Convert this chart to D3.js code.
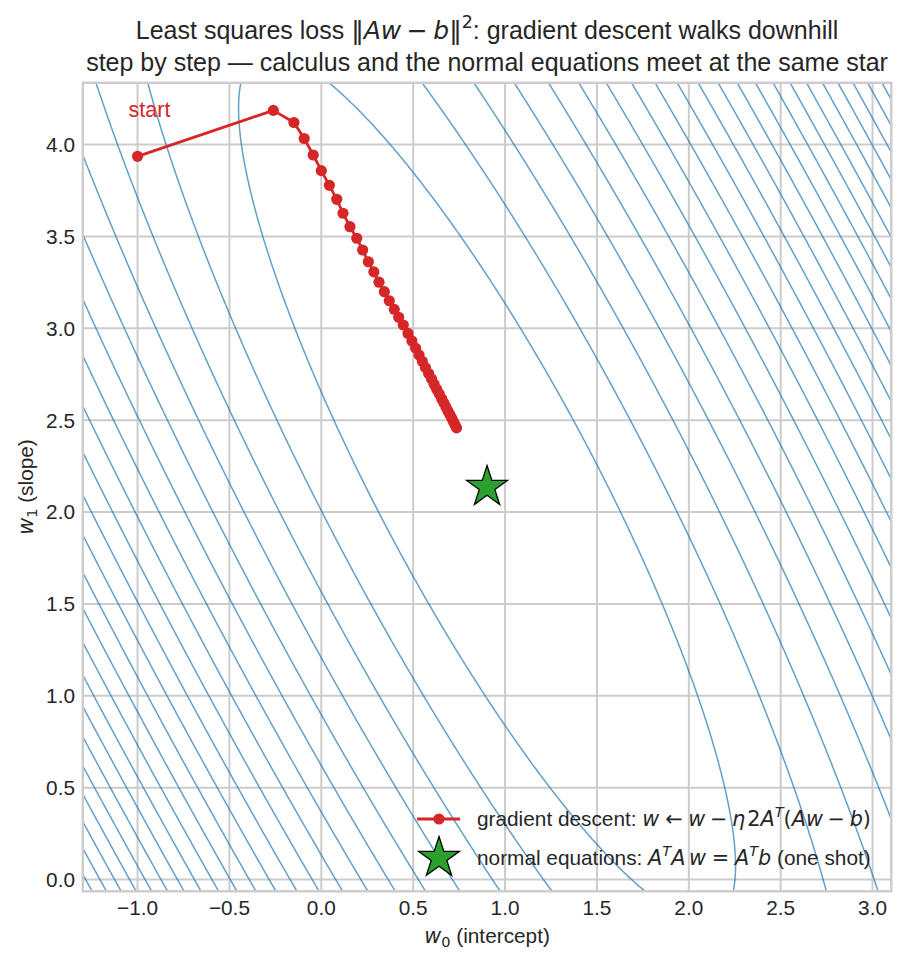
<!DOCTYPE html>
<html><head><meta charset="utf-8">
<script src="https://cdn.jsdelivr.net/npm/d3@7"></script>
<style>
body{margin:0;background:#fff;}
text{font-family:"Liberation Sans",Arial,sans-serif;fill:#262626;}
</style></head><body>
<svg id="chart" width="906" height="964"></svg>
<script>
// ---------------- data ----------------
const xTicks = [-1.0, -0.5, 0.0, 0.5, 1.0, 1.5, 2.0, 2.5, 3.0];
const yTicks = [0.0, 0.5, 1.0, 1.5, 2.0, 2.5, 3.0, 3.5, 4.0];
const xTickLabels = ["\u22121.0", "\u22120.5", "0.0", "0.5", "1.0", "1.5", "2.0", "2.5", "3.0"];
const yTickLabels = ["0.0", "0.5", "1.0", "1.5", "2.0", "2.5", "3.0", "3.5", "4.0"];
// normal-equation solution (the star)
const normalSolution = [0.902, 2.136];
// half-width of the view window around the solution
const viewHalfRange = [2.2, 2.2];
// normalised Gram matrix A^T A / n (defines the loss bowl)
const gramRow0 = [1.0, 0.5];
const gramRow1 = [0.5, 0.328];
// contour levels of the normalised excess loss
const contourLevels = [0.435, 0.935, 1.435, 1.935, 2.435, 2.935, 3.435, 3.935, 4.435, 4.935,
  5.435, 5.935, 6.435, 6.935, 7.435, 7.935, 8.435, 8.935, 9.435, 9.935, 10.435, 10.935];
// gradient-descent iterates
const gdW0 = [-1.000, -0.261, -0.149, -0.093, -0.044, 0.000, 0.044, 0.084, 0.118, 0.156,
  0.193, 0.225, 0.256, 0.286, 0.314, 0.343, 0.370, 0.397, 0.421, 0.446,
  0.472, 0.493, 0.513, 0.532, 0.550, 0.567, 0.584, 0.600, 0.614, 0.628,
  0.642, 0.655, 0.667, 0.678, 0.689, 0.700, 0.710, 0.719, 0.728, 0.736];
const gdW1 = [3.936, 4.186, 4.120, 4.033, 3.943, 3.858, 3.778, 3.702, 3.626, 3.553,
  3.490, 3.426, 3.362, 3.307, 3.251, 3.199, 3.150, 3.103, 3.060, 3.018,
  2.972, 2.931, 2.892, 2.855, 2.820, 2.786, 2.754, 2.724, 2.695, 2.668,
  2.642, 2.617, 2.594, 2.571, 2.550, 2.530, 2.510, 2.492, 2.474, 2.458];

// ---------------- layout ----------------
const plot = {left: 82.8, top: 82.8, right: 891.3, bottom: 891.3};
const C = {red: "#d62728", green: "#2ca02c", blue: "#1f77b4", grid: "#cccccc", text: "#262626"};
const FS = 20.8, TFS = 25;
const MATH = "DejaVu Sans";

const svg = d3.select("#chart");
const xDom = [normalSolution[0] - viewHalfRange[0], normalSolution[0] + viewHalfRange[0]];
const yDom = [normalSolution[1] - viewHalfRange[1], normalSolution[1] + viewHalfRange[1]];
const x = d3.scaleLinear().domain(xDom).range([plot.left, plot.right]);
const y = d3.scaleLinear().domain(yDom).range([plot.bottom, plot.top]);

svg.append("defs").append("clipPath").attr("id", "clip")
  .append("rect").attr("x", plot.left).attr("y", plot.top)
  .attr("width", plot.right - plot.left).attr("height", plot.bottom - plot.top);

// grid
const gGrid = svg.append("g");
gGrid.selectAll("line.vx").data(xTicks).join("line")
  .attr("x1", d => x(d)).attr("x2", d => x(d)).attr("y1", plot.top).attr("y2", plot.bottom)
  .attr("stroke", C.grid).attr("stroke-width", 2);
gGrid.selectAll("line.hy").data(yTicks).join("line")
  .attr("y1", d => y(d)).attr("y2", d => y(d)).attr("x1", plot.left).attr("x2", plot.right)
  .attr("stroke", C.grid).attr("stroke-width", 2);

// contour field
const n = 280, pad = 0.15;
const lo0 = xDom[0] - pad, hi0 = xDom[1] + pad, lo1 = yDom[0] - pad, hi1 = yDom[1] + pad;
const dx = (hi0 - lo0) / (n - 1), dy = (hi1 - lo1) / (n - 1);
const values = new Float64Array(n * n);
for (let j = 0; j < n; j++) {
  for (let i = 0; i < n; i++) {
    const d0 = lo0 + i * dx - normalSolution[0];
    const d1 = lo1 + j * dy - normalSolution[1];
    values[i + j * n] = gramRow0[0] * d0 * d0 + (gramRow0[1] + gramRow1[0]) * d0 * d1 + gramRow1[1] * d1 * d1;
  }
}
const contours = d3.contours().size([n, n]).thresholds(contourLevels)(values);
const proj = d3.geoTransform({
  point(gx, gy) { this.stream.point(x(lo0 + (gx - 0.5) * dx), y(lo1 + (gy - 0.5) * dy)); }
});
const cpath = d3.geoPath(proj);
svg.append("g").attr("clip-path", "url(#clip)")
  .selectAll("path").data(contours).join("path")
  .attr("d", cpath).attr("fill", "none")
  .attr("stroke", C.blue).attr("stroke-opacity", 0.7).attr("stroke-width", 1.5);

// gradient descent path
const gd = gdW0.map((w, i) => [w, gdW1[i]]);
const gGD = svg.append("g");
gGD.append("path").datum(gd)
  .attr("d", d3.line().x(d => x(d[0])).y(d => y(d[1])))
  .attr("fill", "none").attr("stroke", C.red).attr("stroke-width", 2.8).attr("stroke-linejoin", "round");
gGD.selectAll("circle").data(gd).join("circle")
  .attr("cx", d => x(d[0])).attr("cy", d => y(d[1])).attr("r", 5.6).attr("fill", C.red);

// star
function starPath(R) {
  const pts = [];
  for (let k = 0; k < 10; k++) {
    const r = k % 2 === 0 ? R : R * 0.381966;
    const a = -Math.PI / 2 + k * Math.PI / 5;
    pts.push([r * Math.cos(a), r * Math.sin(a)]);
  }
  return "M" + pts.map(p => p[0].toFixed(2) + "," + p[1].toFixed(2)).join("L") + "Z";
}
svg.append("path").attr("d", starPath(21.5))
  .attr("transform", `translate(${x(normalSolution[0])},${y(normalSolution[1])})`)
  .attr("fill", C.green).attr("stroke", "#000").attr("stroke-width", 1.3);

// start label
svg.append("text").attr("x", x(gdW0[0]) - 9).attr("y", y(gdW1[0]) - 39)
  .attr("font-size", 21.5).style("fill", C.red).text("start");

// spines
svg.append("rect").attr("x", plot.left).attr("y", plot.top)
  .attr("width", plot.right - plot.left).attr("height", plot.bottom - plot.top)
  .attr("fill", "none").attr("stroke", C.grid).attr("stroke-width", 2.4);

// tick labels
svg.append("g").selectAll("text").data(xTicks).join("text")
  .attr("x", d => x(d)).attr("y", 914.5).attr("text-anchor", "middle").attr("font-size", FS)
  .text((d, i) => xTickLabels[i]);
svg.append("g").selectAll("text").data(yTicks).join("text")
  .attr("x", 75).attr("y", d => y(d) + 7.4).attr("text-anchor", "end").attr("font-size", FS)
  .text((d, i) => yTickLabels[i]);

// rich text helper: parts {t, m: math font, i: italic, sup, sub, gap: px before}
function rich(sel, parts, fs) {
  let shift = 0;
  parts.forEach(p => {
    const t = sel.append("tspan").text(p.t);
    if (p.m) t.style("font-family", MATH);
    if (p.i) t.style("font-style", "italic");
    let target = 0;
    if (p.sup) { target = -fs * 0.42; t.attr("font-size", fs * 0.7); }
    if (p.sub) { target = fs * 0.2; t.attr("font-size", fs * 0.7); }
    if (target !== shift) { t.attr("dy", target - shift); shift = target; }
    if (p.gap) t.attr("dx", p.gap);
  });
}

// axis labels
const xl = svg.append("text").attr("x", (plot.left + plot.right) / 2).attr("y", 942.5)
  .attr("text-anchor", "middle").attr("font-size", FS);
rich(xl, [{t: "w", m: 1, i: 1}, {t: "0", m: 1, sub: 1}, {t: " (intercept)"}], FS);

const yl = svg.append("text").attr("transform", `translate(33,${(plot.top + plot.bottom) / 2}) rotate(-90)`)
  .attr("text-anchor", "middle").attr("font-size", FS);
rich(yl, [{t: "w", m: 1, i: 1}, {t: "1", m: 1, sub: 1}, {t: " (slope)"}], FS);

// title
const cx = (plot.left + plot.right) / 2;
const sB = 0.222 * TFS;
const t1 = svg.append("text").attr("x", cx).attr("y", 38.5)
  .attr("text-anchor", "middle").attr("font-size", TFS);
rich(t1, [{t: "Least squares loss "}, {t: "\u2016", m: 1}, {t: "Aw", m: 1, i: 1},
  {t: "\u2212", m: 1, gap: sB}, {t: "b", m: 1, i: 1, gap: sB}, {t: "\u2016", m: 1},
  {t: "2", m: 1, sup: 1}, {t: ": gradient descent walks downhill"}], TFS);
svg.append("text").attr("x", cx).attr("y", 70.5)
  .attr("text-anchor", "middle").attr("font-size", TFS)
  .text("step by step \u2014 calculus and the normal equations meet at the same star");

// legend
const mB = 0.222 * FS, mR = 0.278 * FS, mT = 0.167 * FS;
const lg = svg.append("g");
lg.append("line").attr("x1", 417).attr("x2", 460).attr("y1", 819).attr("y2", 819)
  .attr("stroke", C.red).attr("stroke-width", 2.8);
lg.append("circle").attr("cx", 439).attr("cy", 819).attr("r", 5.6).attr("fill", C.red);
lg.append("path").attr("d", starPath(21.5)).attr("transform", "translate(439,858)")
  .attr("fill", C.green).attr("stroke", "#000").attr("stroke-width", 1.3);
const l1 = lg.append("text").attr("x", 477).attr("y", 826).attr("font-size", FS);
rich(l1, [{t: "gradient descent: "}, {t: "w", m: 1, i: 1},
  {t: "\u2190", m: 1, gap: mR}, {t: "w", m: 1, i: 1, gap: mR},
  {t: "\u2212", m: 1, gap: mB}, {t: "\u03b7", m: 1, i: 1, gap: mB},
  {t: "2", m: 1, gap: 2}, {t: "A", m: 1, i: 1}, {t: "T", m: 1, i: 1, sup: 1},
  {t: "(", m: 1}, {t: "Aw", m: 1, i: 1}, {t: "\u2212", m: 1, gap: mB},
  {t: "b", m: 1, i: 1, gap: mB}, {t: ")", m: 1}], FS);
const l2 = lg.append("text").attr("x", 477).attr("y", 865).attr("font-size", FS);
rich(l2, [{t: "normal equations: "}, {t: "A", m: 1, i: 1}, {t: "T", m: 1, i: 1, sup: 1},
  {t: "A", m: 1, i: 1}, {t: "w", m: 1, i: 1, gap: mT}, {t: "=", m: 1, gap: mR},
  {t: "A", m: 1, i: 1, gap: mR}, {t: "T", m: 1, i: 1, sup: 1}, {t: "b", m: 1, i: 1},
  {t: " (one shot)"}], FS);
</script>
</body></html>
